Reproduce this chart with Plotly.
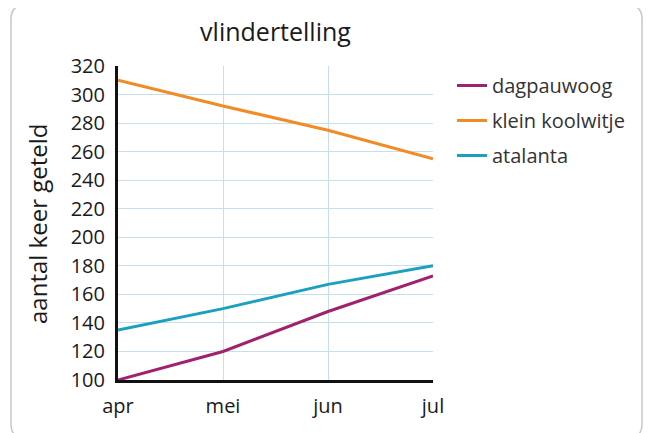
import plotly.graph_objects as go

# data
maanden = ['apr', 'mei', 'jun', 'jul']
dagpauwoog = [100, 120, 148, 173]
klein_koolwitje = [310, 292, 275, 255]
atalanta = [135, 150, 167, 180]

W, H = 651, 433
OFF = 8  # the page body adds 8px of margin
L, R, T, B = 118 - OFF, 433 - OFF, 66 - OFF, 380 - OFF   # plot area in figure pixels


def px(x):
    # screen x (as in the reference) -> paper
    return (x - OFF - L) / (R - L)


def py(y):
    return (B - (y - OFF)) / (B - T)


fig = go.Figure()
fig.add_trace(go.Scatter(x=maanden, y=dagpauwoog, name='dagpauwoog', mode='lines',
                         legendgroup='a', line=dict(color='#a0226f', width=3)))
fig.add_trace(go.Scatter(x=maanden, y=klein_koolwitje, name='klein koolwitje', mode='lines',
                         legendgroup='b', line=dict(color='#f28b25', width=3)))
fig.add_trace(go.Scatter(x=maanden, y=atalanta, name='atalanta', mode='lines',
                         legendgroup='c', line=dict(color='#1ba0c0', width=3)))

# rounded border round the whole chart
x0, x1, y0, y1 = px(11), px(642), py(5), py(438)
rx, ry = 14 / (R - L), 14 / (B - T)
path = (f"M{x0 + rx},{y0} L{x1 - rx},{y0} Q{x1},{y0} {x1},{y0 - ry} "
        f"L{x1},{y1 + ry} Q{x1},{y1} {x1 - rx},{y1} "
        f"L{x0 + rx},{y1} Q{x0},{y1} {x0},{y1 + ry} "
        f"L{x0},{y0 - ry} Q{x0},{y0} {x0 + rx},{y0} Z")
fig.add_shape(type='path', path=path, xref='paper', yref='paper',
              line=dict(color='#c8c8c8', width=1.5), layer='below')

fig.add_annotation(text='aantal keer geteld', textangle=-90, x=px(37), y=py(224),
                   xref='paper', yref='paper', xanchor='center', yanchor='middle',
                   showarrow=False, font=dict(size=24, color='#1a1a1a'))

fig.update_layout(
    width=W, height=H,
    margin=dict(l=L, r=W - R, t=T, b=H - B),
    paper_bgcolor='white', plot_bgcolor='white',
    font=dict(family='Open Sans, sans-serif', color='#1a1a1a'),
    title=dict(text='vlindertelling', x=0.5, xref='paper', y=1 - (32 - OFF) / H,
               yanchor='middle', font=dict(size=25, color='#1a1a1a')),
    showlegend=True,
    legend=dict(x=px(452), y=py(66), xanchor='left', yanchor='top',
                font=dict(size=20, color='#333333'), tracegroupgap=6,
                itemwidth=30, bgcolor='rgba(0,0,0,0)'),
)
fig.update_xaxes(range=[0, 3], showgrid=True, gridcolor='#c5e0ea', gridwidth=1,
                 showline=True, linecolor='#111111', linewidth=3, ticks='',
                 tickfont=dict(size=20), zeroline=False, ticklabelstandoff=6)
fig.update_yaxes(range=[100, 320], dtick=20, showgrid=True, gridcolor='#c5e0ea', gridwidth=1,
                 showline=True, linecolor='#111111', linewidth=3, ticks='',
                 tickfont=dict(size=20), zeroline=False, ticklabelstandoff=6)

fig.write_html('out.html')
